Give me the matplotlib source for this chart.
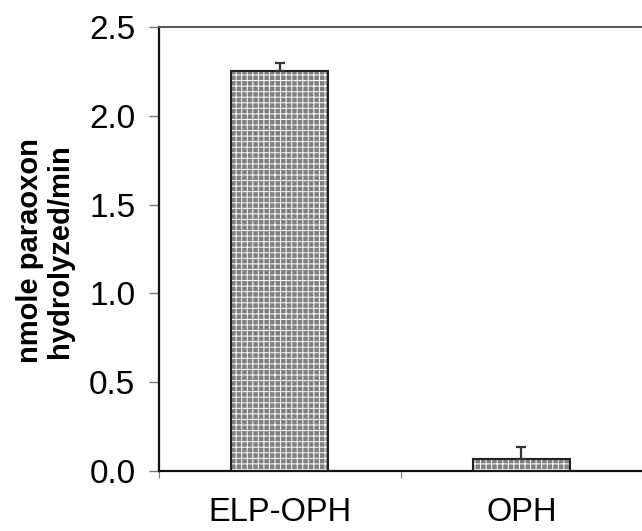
import matplotlib
matplotlib.use("Agg")
import matplotlib.pyplot as plt

categories = ["ELP-OPH", "OPH"]
values = [2.25, 0.065]
errors = [0.05, 0.07]
yticks = [0.0, 0.5, 1.0, 1.5, 2.0, 2.5]

plt.rcParams['font.family'] = ['Liberation Sans', 'DejaVu Sans']
plt.rcParams['hatch.linewidth'] = 0.7

fig = plt.figure(figsize=(6.42, 5.31), dpi=100)
ax = fig.add_axes([159/642, 60/531, 1 - 159/642, 444/531])

x = list(range(len(categories)))
ax.bar(x, values, width=0.40, color='#808080', hatch='+++', edgecolor='white',
       linewidth=0, zorder=2)
ax.bar(x, values, width=0.40, fill=False, edgecolor='#222222', linewidth=1.5, zorder=3)
ax.errorbar(x, values, yerr=[[0]*len(errors), errors], fmt='none', ecolor='#333333',
            elinewidth=1.6, capsize=3.6, capthick=1.6, zorder=4)

ax.set_xlim(-0.5, 1.5)
ax.set_ylim(0, 2.5)
ax.set_yticks(yticks)
ax.set_yticklabels([f"{t:.1f}" for t in yticks], fontsize=24)
ax.tick_params(axis='y', direction='out', length=7, width=1, color='#777777', pad=10)

ax.set_xticks(x)
ax.set_xticklabels(categories, fontsize=23.5)
ax.tick_params(axis='x', which='major', length=0, pad=19)
ax.set_xticks([-0.5, 0.5, 1.5], minor=True)
ax.tick_params(axis='x', which='minor', direction='out', length=5, width=0.8, color='#777777')

for side in ['left', 'bottom']:
    ax.spines[side].set_linewidth(1.6)
    ax.spines[side].set_color('#111111')
ax.spines['top'].set_linewidth(1.4)
ax.spines['top'].set_color('#555555')
ax.spines['right'].set_visible(False)

fig.text(45/642, 1 - 251/531, "nmole paraoxon\nhydrolyzed/min", rotation=90,
         ha='center', va='center', fontsize=21, fontweight='bold',
         multialignment='center', linespacing=1.1)

fig.savefig("out.png", dpi=100)
